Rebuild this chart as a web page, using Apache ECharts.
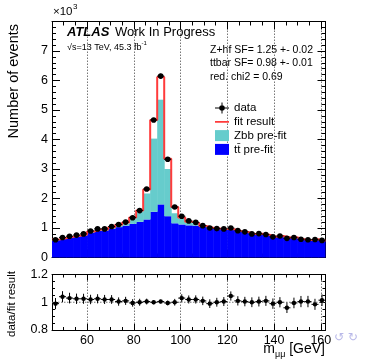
<!DOCTYPE html>
<html><head><meta charset="utf-8">
<script src="https://cdn.jsdelivr.net/npm/echarts@6/dist/echarts.min.js"></script>
<style>html,body{margin:0;padding:0;background:#fff}#c{width:369px;height:360px}</style>
</head><body><div id="c"></div>
<script>
// ---- data (bin edges in GeV, counts in 10^3 events) ----
const binEdges = [45,48,51,54,57,60,63,66,69,72,75,78,81,84,87,90,93,96,99,102,105,108,111,114,117,120,123,126,129,132,135,138,141,144,147,150,153,156,159,162];
const dataEvents = [0.60,0.68,0.72,0.76,0.80,0.90,0.97,0.97,1.05,1.12,1.20,1.35,1.59,2.32,4.66,6.15,3.33,1.71,1.40,1.24,1.19,1.08,1.00,0.98,0.97,1.00,0.91,0.87,0.80,0.81,0.78,0.70,0.73,0.65,0.68,0.62,0.60,0.61,0.58];
const fitResult = [0.606,0.654,0.699,0.741,0.780,0.882,0.946,0.951,1.029,1.114,1.188,1.357,1.590,2.308,4.660,6.120,3.347,1.710,1.359,1.216,1.167,1.069,1.010,0.980,0.965,0.957,0.901,0.866,0.800,0.806,0.772,0.707,0.730,0.677,0.683,0.617,0.597,0.619,0.571];
const ttbarPrefit = [0.58,0.63,0.67,0.71,0.75,0.84,0.90,0.91,0.97,1.03,1.08,1.14,1.21,1.29,1.55,1.80,1.40,1.16,1.12,1.09,1.08,1.04,0.99,0.97,0.96,0.95,0.90,0.86,0.80,0.80,0.77,0.72,0.72,0.68,0.67,0.63,0.61,0.61,0.57];
const zbbPrefit = [0.02,0.02,0.02,0.02,0.02,0.03,0.03,0.03,0.03,0.04,0.06,0.16,0.34,0.88,2.48,3.55,1.60,0.34,0.20,0.10,0.06,0.04,0.03,0.02,0.02,0.02,0.02,0.02,0.02,0.02,0.02,0.02,0.02,0.02,0.02,0.02,0.02,0.02,0.02];
const ratioVals = [0.99,1.04,1.03,1.025,1.025,1.02,1.025,1.02,1.02,1.005,1.01,0.995,1.0,1.005,1.0,1.005,0.995,1.0,1.03,1.02,1.02,1.01,0.99,1.0,1.005,1.045,1.01,1.005,1.0,1.005,1.01,0.99,1.0,0.96,0.995,1.005,1.005,0.985,1.015];
const xMajorTicks = [60,80,100,120,140,160];
const eventsScale = 1000; // y axis is in units of 10^3 events

const FONT = 'Liberation Sans, Arial, sans-serif';
const BLUE = '#0000ff', CYAN = '#66cccc', RED = '#ff3b3b';

// ---- build series data from arrays ----
const ttRects = [], zbbRects = [], fitLine = [], dataPts = [], ratioPts = [];
for (let i = 0; i < dataEvents.length; i++) {
  const lo = binEdges[i], hi = binEdges[i + 1], c = (lo + hi) / 2;
  ttRects.push([lo, hi, 0, ttbarPrefit[i]]);
  zbbRects.push([lo, hi, ttbarPrefit[i], ttbarPrefit[i] + zbbPrefit[i]]);
  fitLine.push([lo, fitResult[i]]);
  const n = dataEvents[i] * eventsScale;
  dataPts.push([c, dataEvents[i], Math.sqrt(n) / eventsScale, lo, hi]);
  ratioPts.push([c, ratioVals[i], ratioVals[i] / Math.sqrt(n), lo, hi]);
}
fitLine.push([binEdges[binEdges.length - 1], fitResult[fitResult.length - 1]]);

function rectItem(params, api) {
  const p0 = api.coord([api.value(0), api.value(3)]);
  const p1 = api.coord([api.value(1), api.value(2)]);
  const cs = params.coordSys;
  const shape = echarts.graphic.clipRectByRect(
    { x: p0[0], y: p0[1], width: p1[0] - p0[0] + 0.5, height: p1[1] - p0[1] },
    { x: cs.x, y: cs.y, width: cs.width, height: cs.height });
  return shape && { type: 'rect', shape: shape, style: { fill: api.visual('color') } };
}
function pointItem(r) {
  return function (params, api) {
    const x = api.value(0), y = api.value(1), e = api.value(2);
    const c = api.coord([x, y]), l = api.coord([api.value(3), y]), rr = api.coord([api.value(4), y]);
    const up = api.coord([x, y + e]), dn = api.coord([x, y - e]);
    return { type: 'group', children: [
      { type: 'line', shape: { x1: l[0], y1: c[1], x2: rr[0], y2: c[1] }, style: { stroke: '#000', lineWidth: 1 } },
      { type: 'line', shape: { x1: c[0], y1: up[1], x2: c[0], y2: dn[1] }, style: { stroke: '#000', lineWidth: 1 } },
      { type: 'circle', shape: { cx: c[0], cy: c[1], r: r }, style: { fill: '#000' } }
    ] };
  };
}

function xAxesFor(g, showLabels) {
  const base = { gridIndex: g, type: 'value', min: 45, max: 162 };
  const tl = g ? 6 : 8, ml = g ? 3 : 4;
  return [
    Object.assign({}, base, { position: 'bottom',
      axisLine: { show: true, onZero: false, lineStyle: { color: '#000', width: 1 } },
      axisTick: { show: true, inside: true, length: tl, customValues: xMajorTicks, lineStyle: { color: '#000' } },
      axisLabel: { show: showLabels, customValues: xMajorTicks, fontSize: 12.5, color: '#000', margin: 4, fontFamily: FONT },
      splitLine: { show: true, lineStyle: { color: '#777', type: [1.5, 1.5], width: 1 } } }),
    Object.assign({}, base, { position: 'bottom', interval: 5,
      axisLine: { show: false, onZero: false },
      axisTick: { show: true, inside: true, length: ml, lineStyle: { color: '#000' } },
      axisLabel: { show: false }, splitLine: { show: false } }),
    Object.assign({}, base, { position: 'top',
      axisLine: { show: true, onZero: false, lineStyle: { color: '#000', width: 1 } },
      axisTick: { show: true, inside: true, length: tl, customValues: xMajorTicks, lineStyle: { color: '#000' } },
      axisLabel: { show: false }, splitLine: { show: false } }),
    Object.assign({}, base, { position: 'top', interval: 5,
      axisLine: { show: false, onZero: false },
      axisTick: { show: true, inside: true, length: ml, lineStyle: { color: '#000' } },
      axisLabel: { show: false }, splitLine: { show: false } })
  ];
}
function yAxesFor(g, min, max, interval, minorSplit, fmt) {
  const tl = g ? 6 : 8, ml = g ? 3 : 4;
  const common = { gridIndex: g, type: 'value', min: min, max: max, interval: interval,
    axisLine: { show: true, onZero: false, lineStyle: { color: '#000', width: 1 } },
    axisTick: { show: true, inside: true, length: tl, lineStyle: { color: '#000' } },
    minorTick: { show: true, splitNumber: minorSplit, length: ml, lineStyle: { color: '#000' } },
    splitLine: { show: false } };
  return [
    Object.assign({}, common, { position: 'left',
      axisLabel: { show: true, fontSize: 12.5, color: '#000', margin: 4, fontFamily: FONT, formatter: fmt } }),
    Object.assign({}, common, { position: 'right', axisLabel: { show: false } })
  ];
}

const dataIcon = 'path://M0,5 L14,5 L14,6 L0,6 Z M6.5,0 L7.5,0 L7.5,11 L6.5,11 Z M9.8,5.5 A2.8,2.8 0 1 1 4.2,5.5 A2.8,2.8 0 1 1 9.8,5.5 Z';
const lineIcon = 'path://M0,0 L0.01,0 L0,0.01 Z M0,4.6 L14,4.6 L14,6.4 L0,6.4 Z M13.99,11 L14,11 L14,10.99 Z';

const option = {
  animation: false,
  backgroundColor: '#fff',
  textStyle: { fontFamily: FONT },
  grid: [
    { left: 52, top: 21.5, width: 273.5, height: 236 },
    { left: 52, top: 274.5, width: 273.5, height: 55.5 }
  ],
  xAxis: xAxesFor(0, false).concat(xAxesFor(1, true)),
  yAxis: yAxesFor(0, 0, 8, 1, 5, v => (v >= 8 ? '' : String(v)))
    .concat(yAxesFor(1, 0.8, 1.2, 0.2, 4, v => (Math.abs(v - 1) < 1e-6 ? '1' : v.toFixed(1)))),
  legend: {
    orient: 'vertical', left: 210, top: 97, itemWidth: 14, itemHeight: 11, itemGap: 1.8,
    textStyle: { fontSize: 11.5, color: '#000', fontFamily: FONT },
    data: [
      { name: 'data', icon: dataIcon },
      { name: 'fit result', icon: lineIcon },
      { name: 'Zbb pre-fit', icon: 'rect' },
      { name: 'tt\u0304 pre-fit', icon: 'rect' }
    ]
  },
  series: [
    { name: 'tt\u0304 pre-fit', type: 'custom', xAxisIndex: 0, yAxisIndex: 0, renderItem: rectItem,
      itemStyle: { color: BLUE }, encode: { x: [0, 1], y: [2, 3] }, data: ttRects, z: 2 },
    { name: 'Zbb pre-fit', type: 'custom', xAxisIndex: 0, yAxisIndex: 0, renderItem: rectItem,
      itemStyle: { color: CYAN }, encode: { x: [0, 1], y: [2, 3] }, data: zbbRects, z: 2 },
    { name: 'fit result', type: 'line', xAxisIndex: 0, yAxisIndex: 0, step: 'end', symbol: 'none',
      lineStyle: { color: RED, width: 2 }, itemStyle: { color: RED }, data: fitLine, z: 3 },
    { name: 'data', type: 'custom', xAxisIndex: 0, yAxisIndex: 0, renderItem: pointItem(2.8),
      itemStyle: { color: '#000' }, encode: { x: 0, y: 1 }, data: dataPts, z: 4 },
    { name: 'unity', type: 'line', xAxisIndex: 4, yAxisIndex: 2, symbol: 'none', silent: true,
      lineStyle: { color: '#777', width: 1, type: [1.5, 1.5] }, data: [[45, 1], [162, 1]], z: 1 },
    { name: 'data/fit', type: 'custom', xAxisIndex: 4, yAxisIndex: 2, renderItem: pointItem(2.2),
      itemStyle: { color: '#000' }, encode: { x: 0, y: 1 }, data: ratioPts, z: 4 }
  ],
  graphic: [
    { type: 'text', x: 53, y: 12, style: { text: '\u00d710', fontSize: 11.5, fontFamily: FONT, fill: '#000', verticalAlign: 'middle' } },
    { type: 'text', x: 73, y: 7, style: { text: '3', fontSize: 8, fontFamily: FONT, fill: '#000', verticalAlign: 'middle' } },
    { type: 'text', x: 67, y: 32, style: { text: 'ATLAS', fontSize: 13, fontWeight: 'bold', fontStyle: 'italic', fontFamily: FONT, fill: '#000', verticalAlign: 'middle' } },
    { type: 'text', x: 115, y: 32, style: { text: 'Work In Progress', fontSize: 13, fontFamily: FONT, fill: '#000', verticalAlign: 'middle' } },
    { type: 'text', x: 67, y: 46, style: { text: '{a|\u221as=13 TeV, 45.3 fb}{b|-1}', fontFamily: FONT, fill: '#000', verticalAlign: 'middle',
        rich: { a: { fontSize: 9, lineHeight: 12, fontFamily: FONT, verticalAlign: 'bottom' }, b: { fontSize: 6, lineHeight: 6, fontFamily: FONT, verticalAlign: 'top' } } } },
    { type: 'text', x: 210, y: 50, style: { text: 'Z+hf SF= 1.25 +- 0.02', fontSize: 10.5, fontFamily: FONT, fill: '#000', verticalAlign: 'middle' } },
    { type: 'text', x: 210, y: 63.5, style: { text: 'ttbar SF= 0.98 +- 0.01', fontSize: 10.5, fontFamily: FONT, fill: '#000', verticalAlign: 'middle' } },
    { type: 'text', x: 210, y: 77, style: { text: 'red. chi2 = 0.69', fontSize: 10.5, fontFamily: FONT, fill: '#000', verticalAlign: 'middle' } },
    { type: 'text', x: 14, y: 24, rotation: Math.PI / 2, style: { text: 'Number of events', fontSize: 14.5, fontFamily: FONT, fill: '#000', align: 'right', verticalAlign: 'middle' } },
    { type: 'text', x: 12, y: 304, rotation: Math.PI / 2, style: { text: 'data/fit result', fontSize: 11.5, fontFamily: FONT, fill: '#000', align: 'center', verticalAlign: 'middle' } },
    { type: 'text', x: 325, y: 351, style: { text: '{m|m}{s|\u03bc\u03bc}{g| [GeV]}', fill: '#000', align: 'right', verticalAlign: 'middle',
        rich: { m: { fontSize: 14, fontFamily: FONT, verticalAlign: 'bottom', padding: [0, 0, 3, 0] }, s: { fontSize: 9, fontFamily: FONT, verticalAlign: 'bottom' }, g: { fontSize: 14, fontFamily: FONT, verticalAlign: 'bottom', padding: [0, 0, 3, 0] } } } },
    { type: 'text', x: 334, y: 338, style: { text: '\u21ba \u21bb', fontSize: 12, fontFamily: 'DejaVu Sans', fill: '#b8b8e8', verticalAlign: 'middle' } }
  ]
};
const chart = echarts.init(document.getElementById('c'), null, { renderer: 'canvas' });
chart.setOption(option);
</script></body></html>
